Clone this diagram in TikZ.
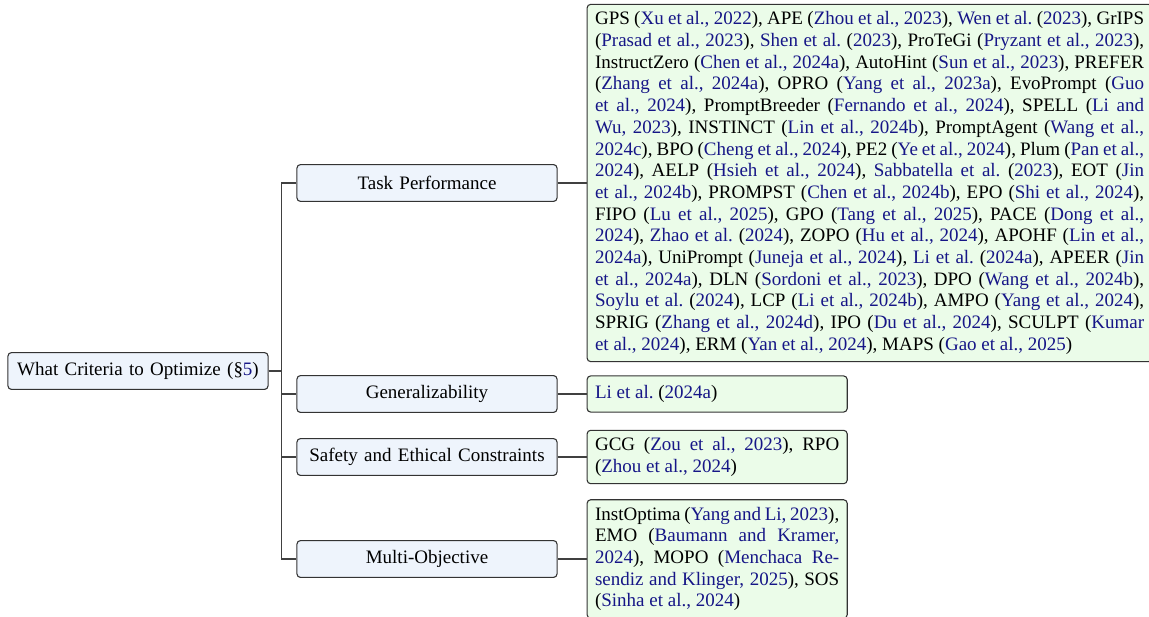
\documentclass[tikz,border=0pt]{standalone}
\usepackage{fontspec}
\setmainfont{Liberation Serif}
\usepackage{xcolor}
\usepackage{tikz}
\usetikzlibrary{positioning}
\definecolor{critBlue}{RGB}{238,244,252}
\definecolor{critGreen}{RGB}{235,252,233}
\definecolor{citeBlue}{RGB}{22,22,135}
\newcommand{\citeblue}[1]{{\color{citeBlue}#1}}
\frenchspacing

\begin{document}
\begin{tikzpicture}[
    x=0.5528pt, y=-0.5528pt,
    category/.style={
        rectangle,
        rounded corners=2pt,
        draw=black!80,
        fill=critBlue,
        line width=0.6pt,
        text width=135pt,
        align=center,
        inner xsep=4.4pt,
        inner ysep=4pt,
        minimum height=20.4pt,
        font=\fontsize{10.5}{12}\selectfont
    },
    leaf/.style={
        rectangle,
        rounded corners=2pt,
        draw=black!80,
        fill=critGreen,
        line width=0.6pt,
        text width=135pt,
        align=justify,
        inner xsep=4.4pt,
        inner ysep=4pt,
        minimum height=20pt,
        font=\fontsize{10.5}{12}\selectfont
    },
    link/.style={draw=black!75, line width=0.6pt}
]
    \useasboundingbox (0,0) rectangle (1149,617);

    % Root
    \node[category] (root) at (138,371) {What Criteria to Optimize (§\citeblue{5})};

    % Categories
    \node[category] (taskperf) at (427,183) {Task Performance};
    \node[category] (general) at (427,394) {Generalizability};
    \node[category] (safety) at (427,457) {Safety and Ethical Constraints};
    \node[category] (multiobj) at (427,559) {Multi-Objective};

    % Leaves
    \node[leaf, text width=303.5pt, right=16pt of taskperf] (taskleaf) {GPS (\citeblue{Xu et al., 2022}), APE (\citeblue{Zhou et al., 2023}), \citeblue{Wen et al.} (\citeblue{2023}), GrIPS\linebreak
    (\citeblue{Prasad et al., 2023}), \citeblue{Shen et al.} (\citeblue{2023}), ProTeGi (\citeblue{Pryzant et al., 2023}),\linebreak
    InstructZero (\citeblue{Chen et al., 2024a}), AutoHint (\citeblue{Sun et al., 2023}), PREFER\linebreak
    (\citeblue{Zhang et al., 2024a}), OPRO (\citeblue{Yang et al., 2023a}), EvoPrompt (\citeblue{Guo\linebreak
    et al., 2024}), PromptBreeder (\citeblue{Fernando et al., 2024}), SPELL (\citeblue{Li and\linebreak
    Wu, 2023}), INSTINCT (\citeblue{Lin et al., 2024b}), PromptAgent (\citeblue{Wang et al.,\linebreak
    2024c}), BPO (\citeblue{Cheng et al., 2024}), PE2 (\citeblue{Ye et al., 2024}), Plum (\citeblue{Pan et al.,\linebreak
    2024}), AELP (\citeblue{Hsieh et al., 2024}), \citeblue{Sabbatella et al.} (\citeblue{2023}), EOT (\citeblue{Jin\linebreak
    et al., 2024b}), PROMPST (\citeblue{Chen et al., 2024b}), EPO (\citeblue{Shi et al., 2024}),\linebreak
    FIPO (\citeblue{Lu et al., 2025}), GPO (\citeblue{Tang et al., 2025}), PACE (\citeblue{Dong et al.,\linebreak
    2024}), \citeblue{Zhao et al.} (\citeblue{2024}), ZOPO (\citeblue{Hu et al., 2024}), APOHF (\citeblue{Lin et al.,\linebreak
    2024a}), UniPrompt (\citeblue{Juneja et al., 2024}), \citeblue{Li et al.} (\citeblue{2024a}), APEER (\citeblue{Jin\linebreak
    et al., 2024a}), DLN (\citeblue{Sordoni et al., 2023}), DPO (\citeblue{Wang et al., 2024b}),\linebreak
    \citeblue{Soylu et al.} (\citeblue{2024}), LCP (\citeblue{Li et al., 2024b}), AMPO (\citeblue{Yang et al., 2024}),\linebreak
    SPRIG (\citeblue{Zhang et al., 2024d}), IPO (\citeblue{Du et al., 2024}), SCULPT (\citeblue{Kumar\linebreak
    et al., 2024}), ERM (\citeblue{Yan et al., 2024}), MAPS (\citeblue{Gao et al., 2025})};
    \node[leaf, right=16pt of general] (generalleaf) {\citeblue{Li et al.} (\citeblue{2024a})};
    \node[leaf, right=16pt of safety] (safetyleaf) {GCG (\citeblue{Zou et al., 2023}), RPO\linebreak
    (\citeblue{Zhou et al., 2024})};
    \node[leaf, right=16pt of multiobj] (multileaf) {InstOptima (\citeblue{Yang and Li, 2023}),\linebreak
    EMO (\citeblue{Baumann and Kramer,\linebreak
    2024}), MOPO (\citeblue{Menchaca Re-\linebreak
    sendiz and Klinger, 2025}), SOS\linebreak
    (\citeblue{Sinha et al., 2024})};

    % Edges
    \draw[link] (root.east) -- ++(7.2pt,0) |- (taskperf.west);
    \draw[link] (root.east) -- ++(7.2pt,0) |- (general.west);
    \draw[link] (root.east) -- ++(7.2pt,0) |- (safety.west);
    \draw[link] (root.east) -- ++(7.2pt,0) |- (multiobj.west);
    \draw[link] (taskperf.east) -- (taskleaf.west);
    \draw[link] (general.east) -- (generalleaf.west);
    \draw[link] (safety.east) -- (safetyleaf.west);
    \draw[link] (multiobj.east) -- (multileaf.west);

\end{tikzpicture}
\end{document}
